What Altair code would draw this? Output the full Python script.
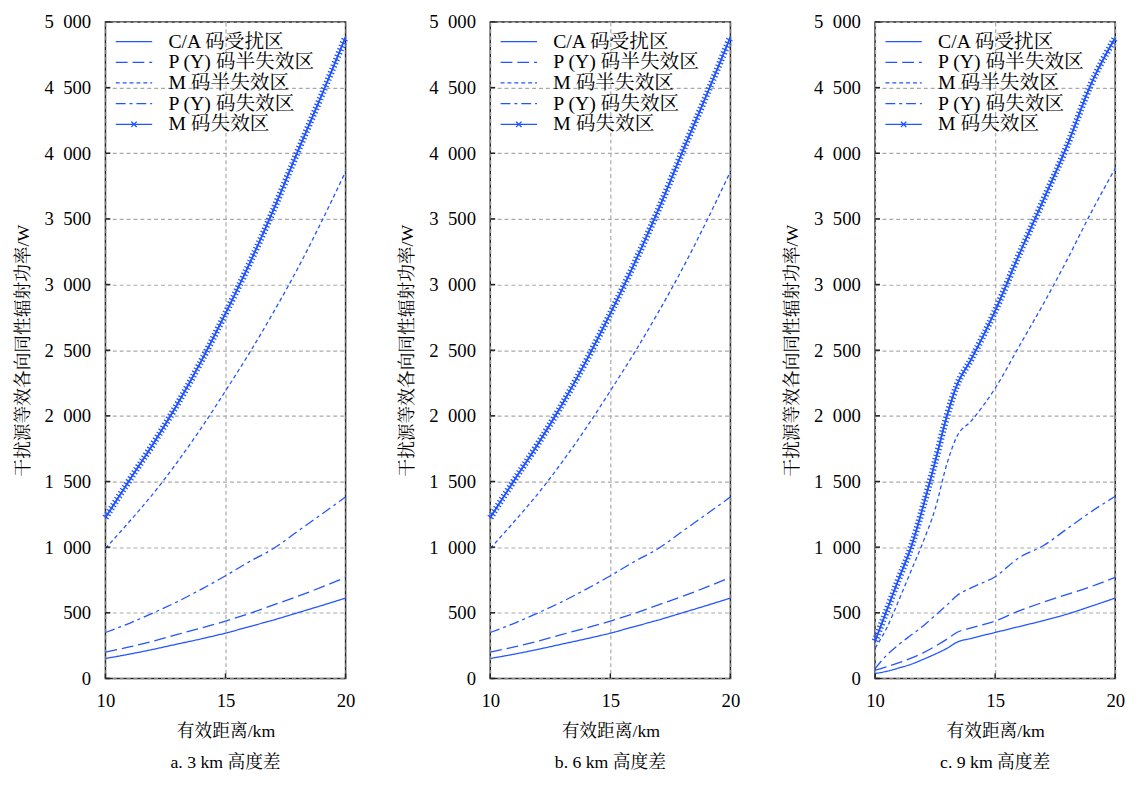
import altair as alt
import pandas as pd

BLUE = "#2255ff"
FONT = "Liberation Serif, Noto Serif CJK SC, Noto Sans CJK SC"

SERIES = ["C/A 码受扰区", "P (Y) 码半失效区", "M 码半失效区", "P (Y) 码失效区", "M 码失效区"]
DASHES = [[1, 0], [12, 5], [4, 3], [10, 4, 3, 4], [1, 0]]

X_TICKS = [10, 15, 20]
Y_TICKS = [0, 500, 1000, 1500, 2000, 2500, 3000, 3500, 4000, 4500, 5000]

# panel a: 3 km height difference
x_a = [10, 11, 12, 13, 14, 15, 16, 17, 18, 19, 20]
a_ca = [152, 185, 222, 262, 302, 345, 395, 445, 500, 555, 612]
a_py_half = [200, 240, 285, 335, 385, 437, 495, 560, 625, 695, 770]
a_m_half = [990, 1195, 1410, 1650, 1910, 2190, 2480, 2790, 3120, 3480, 3860]
a_py_fail = [350, 420, 500, 585, 680, 782, 890, 990, 1120, 1250, 1382]
a_m_fail = [1225, 1510, 1790, 2090, 2420, 2780, 3160, 3570, 4010, 4440, 4885]

# panel b: 6 km height difference
x_b = [10, 11, 12, 13, 14, 15, 16, 17, 18, 19, 20]
b_ca = [152, 185, 222, 262, 302, 345, 395, 445, 500, 555, 612]
b_py_half = [200, 240, 285, 335, 385, 437, 495, 560, 625, 695, 770]
b_m_half = [990, 1195, 1410, 1650, 1910, 2190, 2480, 2790, 3120, 3480, 3860]
b_py_fail = [350, 420, 500, 585, 680, 782, 890, 990, 1120, 1250, 1382]
b_m_fail = [1225, 1510, 1790, 2090, 2420, 2780, 3160, 3570, 4010, 4440, 4885]

# panel c: 9 km height difference
x_c = [10, 10.5, 11, 11.5, 12, 12.5, 13, 13.4, 14, 15, 16, 17, 18, 19, 20]
c_ca = [37, 55, 80, 108, 145, 185, 230, 275, 305, 350, 395, 440, 490, 550, 612]
c_py_half = [62, 90, 120, 155, 195, 245, 300, 350, 385, 437, 515, 580, 640, 700, 770]
c_m_half = [230, 390, 600, 820, 1040, 1290, 1640, 1840, 1960, 2210, 2530, 2850, 3190, 3550, 3885]
c_py_fail = [75, 180, 260, 330, 400, 480, 560, 630, 690, 775, 920, 1010, 1140, 1270, 1387]
c_m_fail = [285, 525, 765, 1000, 1310, 1650, 2005, 2230, 2430, 2800, 3230, 3640, 4060, 4530, 4880]

PLOT_W = 244
PLOT_H = 667


def make_df(xs, groups):
    rows = []
    for name, vals in zip(SERIES, groups):
        for x, v in zip(xs, vals):
            rows.append({"series": name, "x": x, "y": v})
    return pd.DataFrame(rows)


df_a = make_df(x_a, [a_ca, a_py_half, a_m_half, a_py_fail, a_m_fail])
df_b = make_df(x_b, [b_ca, b_py_half, b_m_half, b_py_fail, b_m_fail])
df_c = make_df(x_c, [c_ca, c_py_half, c_m_half, c_py_fail, c_m_fail])
df_yt = pd.DataFrame({"y": Y_TICKS})
df_xt = pd.DataFrame({"x": X_TICKS})

SYM_EXPR = ("datum.value === 'M 码失效区' ? "
            "'M-2,0L2,0M-0.3,-0.3L0.3,0.3M-0.3,0.3L0.3,-0.3' : 'M-2,0L2,0'")

X_SCALE = alt.Scale(domain=[10, 20], nice=False)
Y_SCALE = alt.Scale(domain=[0, 5000], nice=False)


def panel(df, subtitle):
    base = alt.Chart(df)
    x_enc = alt.X(
        "x:Q", scale=X_SCALE,
        axis=alt.Axis(
            values=X_TICKS, format="d", title="有效距离/km",
            domain=False, ticks=False, tickSize=0,
            labelPadding=14, titlePadding=12, labelFlush=False,
            grid=True, gridDash=[4, 3], gridColor="#aaaaaa", gridWidth=1.2,
        ),
    )
    y_enc = alt.Y(
        "y:Q", scale=Y_SCALE,
        axis=alt.Axis(
            values=Y_TICKS,
            labelExpr="replace(format(datum.value, ','), ',', '\u2002')",
            title="干扰源等效各向同性辐射功率/W",
            domain=False, ticks=False, tickSize=0,
            labelPadding=15, titlePadding=12, labelFlush=False,
            grid=True, gridDash=[4, 3], gridColor="#aaaaaa", gridWidth=1.2,
        ),
    )
    lines = base.mark_line(color=BLUE, strokeWidth=1.3, interpolate="monotone").encode(
        x=x_enc,
        y=y_enc,
        strokeDash=alt.StrokeDash(
            "series:N",
            scale=alt.Scale(domain=SERIES, range=DASHES),
            sort=SERIES,
            legend=alt.Legend(
                title=None, orient="top-left", offset=10, padding=0,
                symbolType={"expr": SYM_EXPR}, symbolSize=342,
                symbolStrokeWidth=1.3, symbolStrokeColor=BLUE,
                symbolOffset=9, labelOffset=25,
                labelFontSize=20, labelFont=FONT, labelColor="black",
                rowPadding=1,
            ),
        ),
    )
    m_only = base.transform_filter(alt.datum.series == "M 码失效区")
    m_line = m_only.mark_line(color=BLUE, strokeWidth=1.8, interpolate="monotone").encode(
        x="x:Q", y="y:Q"
    )
    hatch = m_only.mark_line(
        color=BLUE, strokeWidth=7, strokeDash=[1.3, 2.3], interpolate="monotone"
    ).encode(x="x:Q", y="y:Q")
    # inward tick marks
    y_ticks = alt.Chart(df_yt).mark_rule(color="#222", strokeWidth=1.5).encode(
        y="y:Q", x=alt.value(0), x2=alt.value(5)
    )
    x_ticks = alt.Chart(df_xt).mark_rule(color="#222", strokeWidth=1.5).encode(
        x="x:Q", y=alt.value(PLOT_H), y2=alt.value(PLOT_H - 5)
    )
    return alt.layer(lines, m_line, hatch, y_ticks, x_ticks).properties(
        width=PLOT_W, height=PLOT_H,
        title=alt.TitleParams(
            text=subtitle, orient="bottom", offset=14, fontSize=18,
            fontWeight="normal", font=FONT, color="black",
        ),
    )


chart = alt.hconcat(
    panel(df_a, "a. 3 km 高度差"),
    panel(df_b, "b. 6 km 高度差"),
    panel(df_c, "c. 9 km 高度差"),
    spacing=38,
).resolve_scale(strokeDash="independent").resolve_legend(
    strokeDash="independent"
).properties(
    padding={"left": 5, "top": -2, "right": 0, "bottom": 0}, background="white"
).configure(font=FONT).configure_axis(
    labelFont=FONT, labelFontSize=19, labelColor="black",
    titleFont=FONT, titleFontSize=18, titleFontWeight="normal", titleColor="black",
).configure_view(stroke="#222", strokeWidth=1.5)

chart.save("out.html", embed_options={"renderer": "svg", "actions": False})
